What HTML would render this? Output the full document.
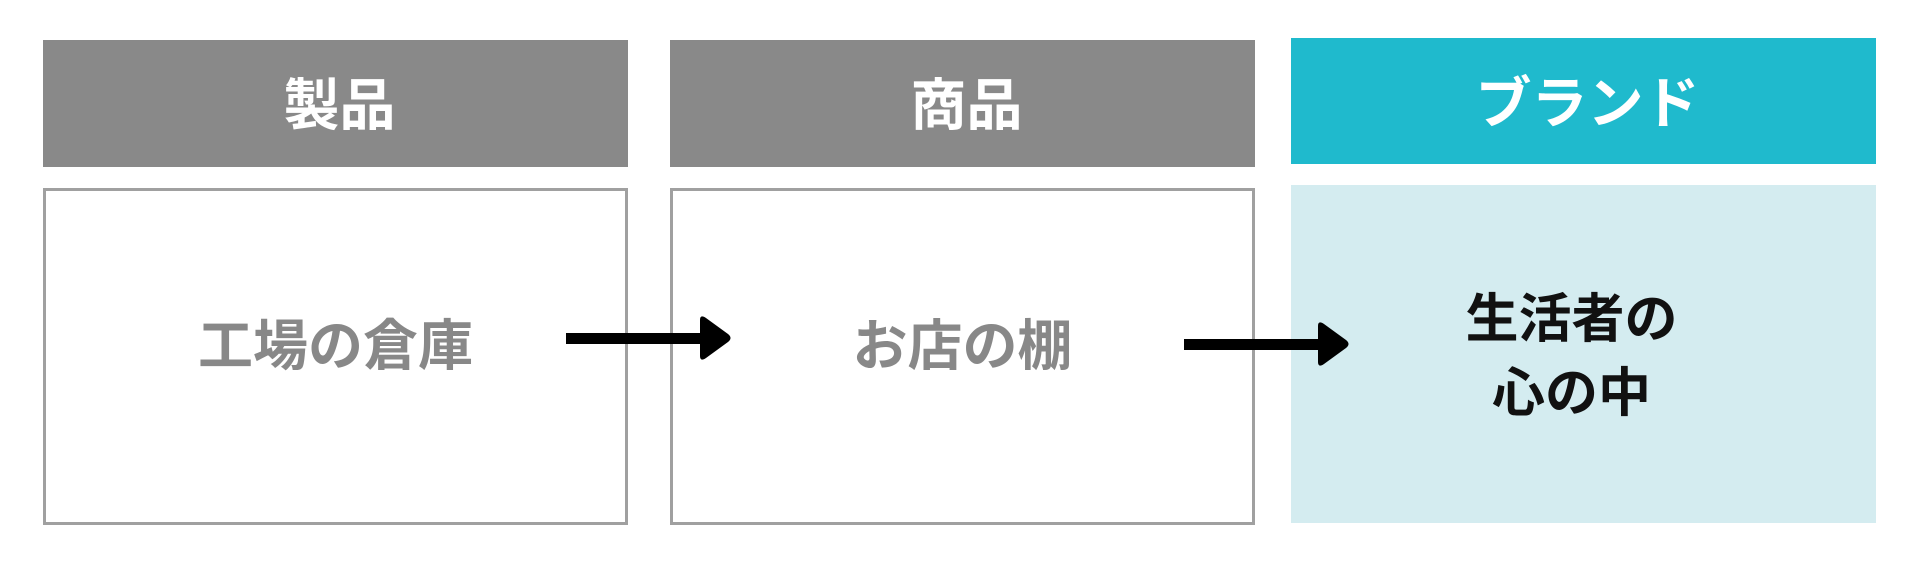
<!DOCTYPE html>
<html><head><meta charset="utf-8"><style>
body{margin:0;width:1920px;height:567px;background:#fff;position:relative;overflow:hidden;font-family:"Liberation Sans","Noto Sans CJK JP",sans-serif;font-weight:bold}
.h{position:absolute;height:127px;display:flex;align-items:center;justify-content:center;color:#fff;font-size:56px}
.h span{position:relative;top:-2px;left:4px}
.b{position:absolute;box-sizing:border-box;display:flex;align-items:center;justify-content:center;text-align:center;font-size:55px}
</style></head><body>
<div class="h" style="left:43px;top:40px;width:585px;background:#898989"><span>製品</span></div>
<div class="h" style="left:670px;top:40px;width:585px;background:#898989"><span>商品</span></div>
<div class="h" style="left:1291px;top:38px;width:585px;height:126px;background:#1fbacd"><span>ブランド</span></div>
<div class="b" style="left:43px;top:188px;width:585px;height:337px;border:3px solid #a0a0a0;color:#888"><span style="position:relative;top:-16px">工場の倉庫</span></div>
<div class="b" style="left:670px;top:188px;width:585px;height:337px;border:3px solid #a0a0a0;color:#888"><span style="position:relative;top:-16px">お店の棚</span></div>
<div class="b" style="left:1291px;top:185px;width:585px;height:338px;background:#d4ecf0;color:#111;line-height:74px;font-size:53px"><span style="position:relative;top:3px;left:-12px">生活者の<br>心の中</span></div>
<svg width="1920" height="567" style="position:absolute;left:0;top:0">
<rect x="566" y="333" width="140" height="11" fill="#000"/>
<path d="M700 320 Q700 314 706 318 L728 334 Q733 338 728 342 L706 358 Q700 362 700 356 Z" fill="#000"/>
<rect x="1184" y="339" width="140" height="11" fill="#000"/>
<path d="M1318 326 Q1318 320 1324 324 L1346 340 Q1351 344 1346 348 L1324 364 Q1318 368 1318 362 Z" fill="#000"/>
</svg>
</body></html>
